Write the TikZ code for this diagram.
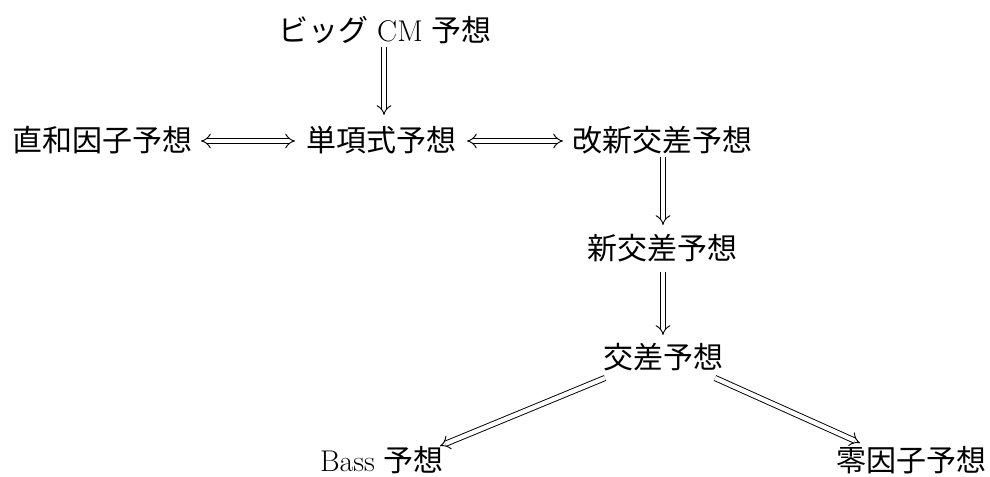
\documentclass[tikz,border=0pt]{standalone}
\usepackage{fontspec}
\newfontfamily\jp{Noto Sans CJK JP}
\usetikzlibrary{arrows.meta}
\begin{document}
\begin{tikzpicture}[x=0.75pt,y=-0.75pt,
  lbl/.style={inner sep=0pt, font=\fontsize{22.5}{27}\selectfont},
  imp/.style={double, double distance=3.2pt, line width=0.7pt, -{Implies[scale=1.35]}},
  impboth/.style={double, double distance=3.2pt, line width=0.7pt, {Implies[scale=1.35]}-{Implies[scale=1.35]}}]
\useasboundingbox (0,0) rectangle (990,477);
\node[lbl] (big) at (385,30) {{\jp ビッグ} CM {\jp 予想}};
\node[lbl] (chokuwa) at (102.5,140) {\jp 直和因子予想};
\node[lbl] (tanko) at (381,140) {\jp 単項式予想};
\node[lbl] (kaishin) at (662.5,140) {\jp 改新交差予想};
\node[lbl] (shin) at (662.5,248) {\jp 新交差予想};
\node[lbl] (kousa) at (663,357) {\jp 交差予想};
\node[lbl] (bass) at (382,460) {Bass {\jp 予想}};
\node[lbl] (rei) at (911,460) {\jp 零因子予想};
\draw[imp] ([shift={(-1,17)}]big.center) -- ([shift={(3,-25)}]tanko.center);
\draw[impboth] ([shift={(98.5,1)}]chokuwa.center) -- ([shift={(-86,1)}]tanko.center);
\draw[impboth] ([shift={(86,1)}]tanko.center) -- ([shift={(-99.5,1)}]kaishin.center);
\draw[imp] ([shift={(0.5,17)}]kaishin.center) -- ([shift={(0.5,-23)}]shin.center);
\draw[imp] ([shift={(0.5,24)}]shin.center) -- ([shift={(0,-22)}]kousa.center);
\draw[imp] ([shift={(-58,21)}]kousa.center) -- ([shift={(58,-14)}]bass.center);
\draw[imp] ([shift={(52,21)}]kousa.center) -- ([shift={(-51,-17)}]rei.center);
\end{tikzpicture}
\end{document}
